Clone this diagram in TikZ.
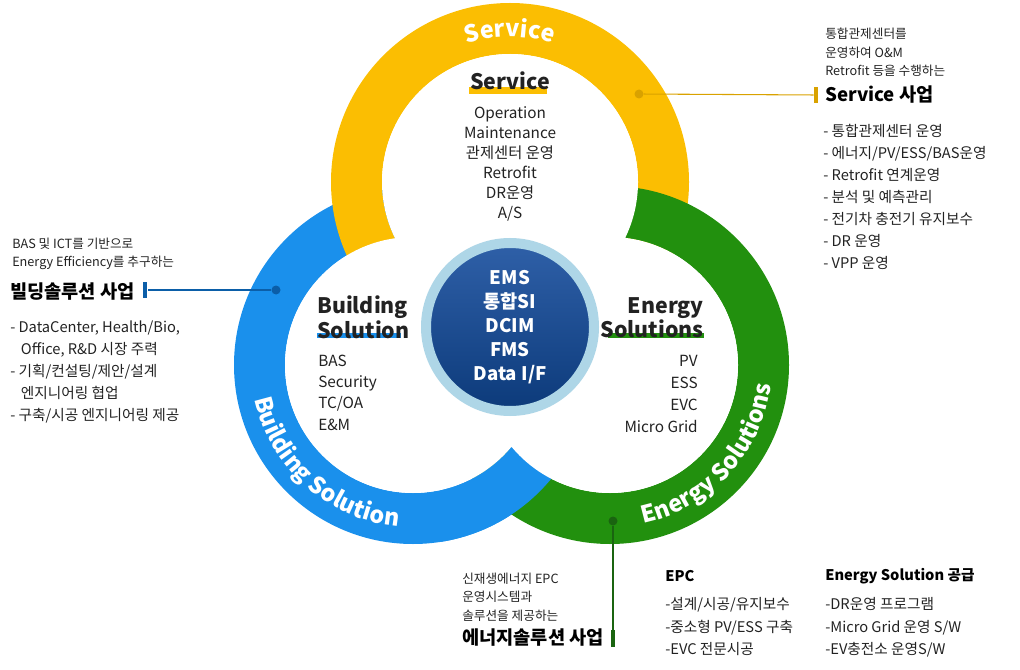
\documentclass[tikz,border=0pt]{standalone}
\usepackage{fontspec}
\setmainfont{Noto Sans CJK KR}
\usepackage{xcolor}
\usetikzlibrary{positioning,calc,decorations.text}

\definecolor{svcyellow}{HTML}{FBBE02}
\definecolor{bldblue}{HTML}{1A90EC}
\definecolor{enggreen}{HTML}{22900E}
\definecolor{svcdark}{HTML}{D9A200}
\definecolor{blddark}{HTML}{0B5EA8}
\definecolor{engdark}{HTML}{1A6410}
\definecolor{coretop}{HTML}{2F60A8}
\definecolor{corebottom}{HTML}{0C3A7A}
\definecolor{coreedge}{HTML}{AED6E7}
\definecolor{inktext}{HTML}{222222}

\begin{document}
\begin{tikzpicture}[
  x=0.75pt,y=0.75pt,
  ring/.style={even odd rule},
  ringlabel/.style={decorate,decoration={text along path,text align=center,
    text={|\fontsize{17.5}{17.5}\selectfont\bfseries\color{white}|#1}}},
  headtext/.style={inner sep=0pt,text=inktext,
    font=\bfseries\fontsize{16}{16.5}\selectfont},
  listtext/.style={inner sep=0pt,text=inktext,
    font=\fontsize{11.5}{15}\selectfont},
  notetext/.style={inner sep=0pt,text=inktext,anchor=north west,
    align=left,font=\fontsize{9.5}{14}\selectfont},
  bizhead/.style={inner sep=0pt,text=black,anchor=west,
    font=\bfseries\fontsize{14}{16}\selectfont},
  subhead/.style={inner sep=0pt,text=black,anchor=west,
    font=\bfseries\fontsize{11}{13}\selectfont},
  bizlist/.style={inner sep=0pt,text=inktext,anchor=north west,
    align=left,font=\fontsize{11}{16.6}\selectfont},
  ringdot/.style={circle,inner sep=0pt,minimum size=6.75pt},
  markbar/.style={inner sep=0pt,minimum width=3pt,minimum height=12.5pt},
  leader/.style={line width=0.8pt}
]
  \useasboundingbox (0,0) rectangle (1020,-670);

  \coordinate (ycen) at (510,-182);
  \coordinate (bcen) at (413,-365);
  \coordinate (gcen) at (610,-365);

  % three rings, each one over the next
  \fill[bldblue,ring] (bcen) circle[radius=179] (bcen) circle[radius=128];
  \fill[svcyellow,ring] (ycen) circle[radius=179] (ycen) circle[radius=128];
  \fill[enggreen,ring] (gcen) circle[radius=179] (gcen) circle[radius=128];
  \begin{scope}
    \clip (440,-420) rectangle (600,-560);
    \fill[bldblue,ring] (bcen) circle[radius=179] (bcen) circle[radius=128];
  \end{scope}
  \fill[white] (ycen) circle[radius=128] (bcen) circle[radius=128]
    (gcen) circle[radius=128];

  % names along the rings
  \path[ringlabel=Service] ([shift={(135:145)}]ycen)
    arc[start angle=135,end angle=45,radius=145];
  \path[ringlabel=Building Solution] ([shift={(168:162)}]bcen)
    arc[start angle=168,end angle=289,radius=162];
  \path[ringlabel=Energy Solutions] ([shift={(-102:162)}]gcen)
    arc[start angle=-102,end angle=17,radius=162];

  % core
  \node[circle,minimum size=126pt,draw=coreedge,line width=7.5pt,
    top color=coretop,bottom color=corebottom,text=white,align=center,
    font=\bfseries\fontsize{14}{18}\selectfont] (core) at (510,-327)
    {EMS\\통합SI\\DCIM\\FMS\\Data I/F};

  % inner titles
  \fill[svcyellow] (469,-87) rectangle (547,-94);
  \fill[bldblue] (317,-333) rectangle (401,-338);
  \fill[enggreen] (608,-333) rectangle (704,-338);
  \node[headtext] (svctitle) at (510,-81) {Service};
  \node[headtext,align=left,anchor=north west] (bldtitle) at (317,-296)
    {Building\\Solution};
  \node[headtext,align=right,anchor=north east] (engtitle) at (704,-297)
    {Energy\\Solutions};

  \node[listtext,align=center,anchor=north] (svclist) at (510,-106.5)
    {Operation\\Maintenance\\관제센터 운영\\Retrofit\\DR운영\\A/S};
  \node[listtext,align=left,anchor=north west,
    font=\fontsize{11.5}{16}\selectfont] (bldlist) at (318,-354.5)
    {BAS\\Security\\TC/OA\\E\&M};
  \node[listtext,align=right,anchor=north east,
    font=\fontsize{11.5}{16.5}\selectfont] (englist) at (698,-354.5)
    {PV\\ESS\\EVC\\Micro Grid};

  % service business
  \node[notetext] (svcnote) at (825,-27.5)
    {통합관제센터를\\운영하여 O\&M\\Retrofit 등을 수행하는};
  \node[bizhead] (svcbiz) at (825,-95) {Service 사업};
  \node[bizlist] (svcitems) at (823,-123.5)
    {- 통합관제센터 운영\\- 에너지/PV/ESS/BAS운영\\- Retrofit 연계운영\\
     - 분석 및 예측관리\\- 전기차 충전기 유지보수\\- DR 운영\\- VPP 운영};
  \node[ringdot,fill=svcdark] (svcdot) at (639,-94) {};
  \node[markbar,fill=svcdark] (svcbar) at (816,-95) {};
  \draw[leader,svcdark] (svcdot) -- (svcbar);

  % building business
  \node[notetext] (bldnote) at (12,-237.5)
    {BAS 및 ICT를 기반으로\\Energy Efficiency를 추구하는};
  \node[bizhead] (bldbiz) at (10,-292) {빌딩솔루션 사업};
  \node[bizlist,font=\fontsize{11}{16.5}\selectfont] (blditems) at (10,-321)
    {- DataCenter, Health/Bio,\\\hspace*{8pt}Office, R\&D 시장 주력\\
     - 기획/컨설팅/제안/설계\\\hspace*{8pt}엔지니어링 협업\\
     - 구축/시공 엔지니어링 제공};
  \node[ringdot,fill=blddark] (blddot) at (276,-290) {};
  \node[markbar,fill=blddark,minimum width=3.5pt] (bldbar) at (145,-290) {};
  \draw[leader,blddark] (blddot) -- (bldbar);

  % energy business
  \node[notetext] (engnote) at (462,-572.5)
    {신재생에너지 EPC\\운영시스템과\\솔루션을 제공하는};
  \node[bizhead] (engbiz) at (462,-638) {에너지솔루션 사업};
  \node[ringdot,fill=engdark] (engdot) at (613,-521) {};
  \node[markbar,fill=engdark] (engbar) at (613,-638.5) {};
  \draw[leader,engdark] (engdot) -- (engbar);

  \node[subhead] (epchead) at (665,-576) {EPC};
  \node[bizlist] (epcitems) at (665,-597.5)
    {-설계/시공/유지보수\\-중소형 PV/ESS 구축\\-EVC 전문시공};
  \node[subhead] (supplyhead) at (825,-576) {Energy Solution 공급};
  \node[bizlist] (supplyitems) at (825,-597.5)
    {-DR운영 프로그램\\-Micro Grid 운영 S/W\\-EV충전소 운영S/W};
\end{tikzpicture}
\end{document}
